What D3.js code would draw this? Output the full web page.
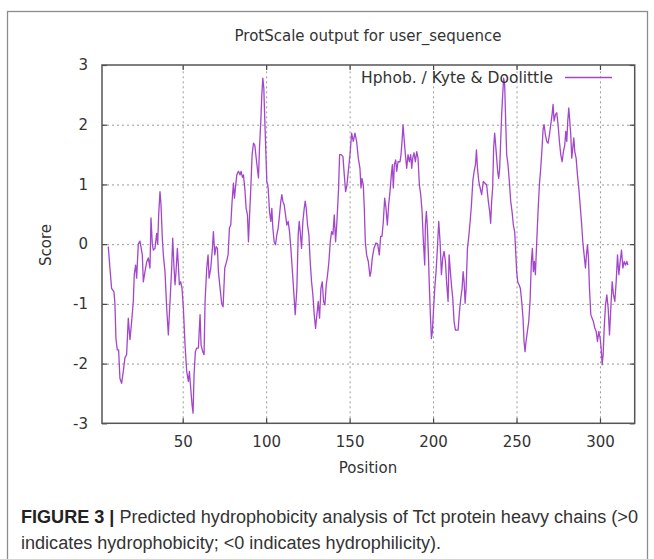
<!DOCTYPE html>
<html>
<head>
<meta charset="utf-8">
<script src="https://d3js.org/d3.v7.min.js"></script>
<style>
  body { margin: 0; background: #fff; }
  .tick text { font-family: "DejaVu Sans", sans-serif; font-size: 15px; fill: #333; }
</style>
</head>
<body>
<div id="chart"></div>
<script>
// Kyte & Doolittle hydrophobicity
var positions = [
  5.4, 6.4, 7.4, 8.8, 9.4, 10, 10.8, 11.6, 12.4, 13.4, 14.4, 15.4, 16.4, 17.4, 18.4, 19.4, 20.4, 21, 21.8, 22.4,
  23.4, 24.4, 25.8, 26.4, 27.4, 28.4, 29.4, 30.4, 31, 31.8, 32.4, 33.4, 34.4, 35, 35.6, 36.4, 37, 37.8, 38.4, 39.4,
  40.4, 41.4, 42.4, 43.4, 44, 44.8, 45.4, 46, 46.8, 47.4, 48, 48.8, 49.6, 50.4, 51.4, 52.4, 53.4, 54, 54.8, 55.6,
  56.2, 56.8, 57.6, 58.4, 59.4, 60.4, 61, 62, 62.8, 63.4, 64.4, 65.2, 65.8, 66.8, 67.8, 68.4, 69.2, 70, 70.8, 71.4,
  72.4, 73.4, 74.2, 75.2, 76.2, 77.2, 78, 78.8, 79.6, 80.4, 81, 81.6, 82.4, 83.4, 84.4, 85, 85.8, 86.4, 87.2, 88,
  88.8, 89.4, 90, 90.8, 91.6, 92.4, 93.2, 94, 94.8, 95.4, 96, 96.8, 97.4, 98, 98.6, 99.2, 99.8, 100.4, 101.2, 102,
  102.8, 103.4, 104, 104.8, 105.6, 106.4, 107.2, 108, 108.8, 109.4, 110, 110.8, 111.6, 112.4, 113.2, 114, 114.8, 115.6, 116.4, 117.4,
  118.4, 119.2, 119.8, 120.4, 121.2, 122, 122.8, 123.4, 124, 124.8, 125.6, 126.4, 127.2, 128, 128.8, 129.6, 130.4, 131.2, 132, 132.8,
  133.6, 134.4, 135.2, 136, 136.8, 137.6, 138.4, 139.2, 140, 140.8, 141.6, 142.4, 143.4, 144, 144.8, 146, 146.8, 147.6, 148.4, 149.4,
  150.4, 151.2, 152.2, 153.2, 154.2, 155.2, 156.2, 156.8, 157.4, 158.2, 158.8, 159.4, 160.2, 161.2, 162.2, 162.8, 163.6, 164.6, 165.8, 166.8,
  167.8, 168.6, 169.4, 170.2, 171, 171.8, 172.6, 173.4, 174.2, 175, 175.6, 176.2, 176.8, 177.6, 178.2, 179, 180.2, 180.8, 181.4, 182,
  182.6, 183.4, 184.2, 185, 185.8, 186.6, 187.2, 187.8, 188.6, 189.4, 190.2, 191, 191.8, 192.6, 193.4, 194.2, 195, 195.4, 196, 196.6,
  197.2, 197.8, 198.4, 199, 199.6, 200.2, 201, 201.8, 202.6, 203.4, 204.2, 205, 205.8, 206.6, 207.4, 208.2, 209, 209.6, 210.2, 211,
  211.8, 212.6, 213.4, 214.2, 215, 215.8, 216.6, 217.4, 218, 218.6, 219.2, 219.8, 220.6, 221.4, 222.2, 223, 223.8, 224.6, 225.4, 226,
  226.6, 227.4, 228.2, 229.1, 230.1, 231.1, 232.1, 233.1, 233.9, 234.5, 235.1, 235.7, 236.3, 236.9, 237.5, 238.1, 238.7, 239.3, 239.9, 240.5,
  241.1, 241.7, 242.3, 242.9, 243.5, 244.1, 244.9, 245.7, 246.5, 247.3, 248.1, 248.9, 249.5, 250.1, 250.7, 251.5, 252.3, 253.1, 253.9, 254.5,
  255.1, 255.7, 256.5, 257.3, 258.1, 258.9, 259.5, 260.1, 260.7, 261.3, 262.1, 262.9, 263.7, 264.5, 265.3, 265.9, 266.5, 267.3, 268.1, 268.9,
  269.7, 270.5, 271.3, 271.9, 272.5, 273.3, 274.1, 274.9, 275.7, 276.5, 277.3, 278.1, 278.9, 279.5, 280.1, 280.7, 281.3, 281.9, 282.5, 283.1,
  283.7, 284.3, 284.9, 285.7, 286.5, 287.3, 288.1, 288.9, 289.7, 290.5, 291.3, 291.9, 292.5, 293.1, 293.7, 294.5, 295.3, 296.1, 296.9, 297.7,
  298.5, 299.3, 300.1, 300.7, 301.3, 301.9, 302.5, 303.3, 304.1, 304.9, 305.7, 306.5, 307.3, 308.1, 308.9, 309.7, 310.5, 311.3, 312.1, 312.9,
  313.7, 314.5, 315.3, 316.1, 316.7
];
var scores = [
  -0.04, -0.4, -0.74, -0.8, -1.0, -1.58, -1.77, -1.77, -2.25, -2.33, -2.13, -1.9, -1.85, -1.24, -1.6, -1.3, -0.96, -0.5, -0.35, -0.57,
  0, 0.05, -0.18, -0.63, -0.46, -0.3, -0.23, -0.4, 0.44, 0, -0.1, -0.07, 0.18, 0, 0.49, 0.88, 0.66, 0.1, -0.18, -0.46,
  -1.07, -1.52, -0.96, -0.4, 0.1, -0.4, -0.68, -0.46, -0.07, -0.35, -0.68, -0.63, -0.74, -1.07, -1.69, -2.13, -2.3, -2.13, -2.41, -2.69,
  -2.83, -2.19, -1.8, -1.74, -1.74, -1.18, -1.69, -1.8, -1.85, -0.96, -0.4, -0.18, -0.57, -0.4, -0.07, 0.21, -0.18, -0.04, -0.07, -0.46,
  -0.74, -1.0, -1.05, -0.4, -0.3, -0.18, 0.27, 0.32, 0.72, 1.02, 0.77, 0.94, 1.16, 1.22, 1.16, 1.22, 1.12, 1.16, 0.94, 0.6,
  0.49, 0.04, 0.44, 0.94, 1.5, 1.69, 1.66, 1.45, 1.25, 1.11, 1.61, 2.06, 2.5, 2.78, 2.61, 2.06, 1.55, 1.05, 0.94, 0.55,
  0.38, 0.6, 0.27, 0.04, -0.01, 0.16, 0.27, 0.49, 0.72, 0.83, 0.72, 0.66, 0.49, 0.32, 0.38, 0.21, -0.07, -0.4, -0.74, -1.18,
  -0.74, 0.16, 0.38, 0.21, -0.07, 0.38, 0.6, 0.72, 0.6, 0.32, 0.16, -0.3, -0.63, -0.85, -1.18, -1.41, -1.18, -0.96, -1.24, -0.74,
  -0.63, -0.96, -1.02, -0.68, -0.51, -0.29, 0.04, 0.21, 0.16, 0.49, 0.04, 0.38, 0.94, 1.5, 1.5, 1.47, 1.16, 0.88, 0.99, 1.27,
  1.55, 1.86, 1.72, 1.86, 1.72, 1.44, 1.27, 0.94, 1.1, 0.99, 0.6, 0.04, -0.18, -0.29, -0.54, -0.46, -0.23, -0.07, 0.02, 0,
  -0.18, 0.13, 0.13, 0.38, 0.77, 0.6, 0.32, 0.66, 0.88, 1.16, 1.33, 0.94, 1.33, 1.41, 1.22, 1.38, 1.38, 1.5, 1.72, 2.0,
  1.78, 1.5, 1.27, 1.5, 1.38, 1.5, 1.27, 1.44, 1.53, 1.38, 1.55, 1.44, 0.99, 0.83, 0.55, 0.04, -0.35, 0.32, 0.55, 0.27,
  -0.18, -0.74, -1.18, -1.58, -1.46, -1.13, -0.74, -0.46, -0.07, 0.38, 0.04, -0.51, -0.23, -0.12, -0.29, -0.68, -0.96, -0.18, -0.4, -0.68,
  -0.91, -1.3, -1.44, -1.44, -1.44, -1.13, -0.91, -0.74, -0.46, -0.63, -0.99, -0.74, -0.07, 0.13, 0.38, 0.66, 1.05, 1.22, 1.33, 1.58,
  1.27, 1.05, 0.94, 0.83, 1.05, 1.02, 0.99, 0.72, 0.55, 0.35, 0.72, 0.94, 1.61, 1.86, 1.66, 1.44, 1.22, 1.1, 1.27, 1.72,
  2.17, 2.5, 2.78, 2.67, 2.06, 1.5, 1.33, 1.05, 0.72, 0.55, 0.32, 0.21, -0.12, -0.46, -0.63, -0.68, -0.74, -0.96, -1.24, -1.63,
  -1.8, -1.63, -1.46, -1.3, -0.96, -0.29, -0.07, -0.46, -0.29, -0.51, 0.04, 0.55, 0.99, 1.27, 1.61, 1.92, 2.0, 1.83, 1.72, 1.69,
  1.83, 2.0, 2.17, 2.34, 2.06, 2.17, 2.2, 2.0, 1.72, 1.5, 1.38, 1.55, 1.66, 1.89, 1.72, 2.06, 2.28, 2.06, 1.83, 1.44,
  1.61, 1.78, 1.55, 1.44, 1.16, 0.94, 0.66, 0.38, 0.04, -0.18, -0.4, -0.18, -0.01, -0.23, -0.74, -1.18, -1.24, -1.3, -1.41, -1.46,
  -1.63, -1.46, -1.58, -1.74, -2.02, -1.85, -1.41, -1.02, -0.85, -1.07, -1.52, -1.07, -0.63, -0.85, -0.96, -0.63, -0.18, -0.51, -0.29, -0.1,
  -0.4, -0.29, -0.35, -0.29, -0.35
];

var xTicks = [50, 100, 150, 200, 250, 300];
var yTicks = [-3, -2, -1, 0, 1, 2, 3];
var xDomain = [1.65, 320.8];
var yDomain = [-3, 3];

var chartTitle = "ProtScale output for user_sequence";
var legendLabel = "Hphob. / Kyte & Doolittle";
var xLabel = "Position";
var yLabel = "Score";
var captionBold = "FIGURE 3 |";
var captionLine1 = " Predicted hydrophobicity analysis of Tct protein heavy chains (>0";
var captionLine2 = "indicates hydrophobicity; <0 indicates hydrophilicity).";

var svgWidth = 654;
var svgHeight = 559;
var margin = { top: 65, right: 19.3, bottom: 135.7, left: 102 };
var width = svgWidth - margin.left - margin.right;
var height = svgHeight - margin.top - margin.bottom;

var lineColor = "#a346cc";
var font = "'DejaVu Sans', sans-serif";

var svg = d3.select("#chart")
  .append("svg")
  .attr("width", svgWidth)
  .attr("height", svgHeight)
  .style("display", "block");

// figure frame
svg.append("rect")
  .attr("x", 7.5)
  .attr("y", 11.5)
  .attr("width", 640)
  .attr("height", 570)
  .attr("fill", "#fff")
  .attr("stroke", "#8c8c8c")
  .attr("stroke-width", 1.3);

var chartGroup = svg.append("g")
  .attr("transform", `translate(${margin.left}, ${margin.top})`);

var xScale = d3.scaleLinear().domain(xDomain).range([0, width]);
var yScale = d3.scaleLinear().domain(yDomain).range([height, 0]);

// dotted grid
chartGroup.append("g")
  .attr("class", "grid")
  .attr("transform", `translate(0, ${height})`)
  .call(d3.axisBottom(xScale).tickValues(xTicks).tickSize(-height).tickFormat(""))
  .call(g => g.select(".domain").remove());

chartGroup.append("g")
  .attr("class", "grid")
  .call(d3.axisLeft(yScale).tickValues(yTicks.slice(1, -1)).tickSize(-width).tickFormat(""))
  .call(g => g.select(".domain").remove());

chartGroup.selectAll(".grid line")
  .attr("stroke", "#9a9a9a")
  .attr("stroke-width", 1)
  .attr("stroke-dasharray", "2,3");

// axes with inward ticks, gnuplot style
var plainFormat = d => String(d);

chartGroup.append("g")
  .attr("transform", `translate(0, ${height})`)
  .call(d3.axisBottom(xScale).tickValues(xTicks).tickSize(-5).tickPadding(13).tickFormat(plainFormat));

chartGroup.append("g")
  .call(d3.axisTop(xScale).tickValues(xTicks).tickSize(-5).tickFormat(""));

chartGroup.append("g")
  .call(d3.axisLeft(yScale).tickValues(yTicks).tickSize(-5).tickPadding(14).tickFormat(plainFormat));

chartGroup.append("g")
  .attr("transform", `translate(${width}, 0)`)
  .call(d3.axisRight(yScale).tickValues(yTicks).tickSize(-5).tickFormat(""));

chartGroup.selectAll(".domain").remove();
chartGroup.selectAll(".tick line").filter(function() { return !this.closest(".grid"); })
  .attr("stroke", "#444")
  .attr("stroke-width", 1.2);

chartGroup.append("rect")
  .attr("width", width)
  .attr("height", height)
  .attr("fill", "none")
  .attr("stroke", "#555")
  .attr("stroke-width", 1.5);

// data line
var points = positions.map((p, i) => [p, scores[i]]);
var line = d3.line()
  .x(d => xScale(d[0]))
  .y(d => yScale(d[1]));

chartGroup.append("path")
  .datum(points)
  .attr("d", line)
  .attr("fill", "none")
  .attr("stroke", lineColor)
  .attr("stroke-width", 1.3)
  .attr("stroke-linejoin", "round");

// legend
chartGroup.append("text")
  .attr("x", 451)
  .attr("y", 18)
  .attr("text-anchor", "end")
  .attr("font-family", font)
  .attr("font-size", 15.5)
  .attr("fill", "#333")
  .text(legendLabel);

chartGroup.append("line")
  .attr("x1", 463)
  .attr("x2", 510)
  .attr("y1", 12.5)
  .attr("y2", 12.5)
  .attr("stroke", lineColor)
  .attr("stroke-width", 1.5);

// title and axis labels
svg.append("text")
  .attr("x", 368)
  .attr("y", 41)
  .attr("text-anchor", "middle")
  .attr("font-family", font)
  .attr("font-size", 15)
  .attr("fill", "#333")
  .text(chartTitle);

svg.append("text")
  .attr("x", 368)
  .attr("y", 473)
  .attr("text-anchor", "middle")
  .attr("font-family", font)
  .attr("font-size", 15)
  .attr("fill", "#333")
  .text(xLabel);

svg.append("text")
  .attr("transform", "translate(51, 245) rotate(-90)")
  .attr("text-anchor", "middle")
  .attr("font-family", font)
  .attr("font-size", 15)
  .attr("fill", "#333")
  .text(yLabel);

// caption
var capFont = "'Liberation Sans Narrow', 'Liberation Sans', Arial, sans-serif";
var cap1 = svg.append("text")
  .attr("x", 21)
  .attr("y", 523)
  .attr("font-family", capFont)
  .attr("font-size", 18)
  .attr("fill", "#333")
  .attr("textLength", 617)
  .attr("lengthAdjust", "spacingAndGlyphs");
cap1.append("tspan").attr("font-weight", "bold").attr("fill", "#222").text(captionBold);
cap1.append("tspan").text(captionLine1);

svg.append("text")
  .attr("x", 21)
  .attr("y", 549)
  .attr("font-family", capFont)
  .attr("font-size", 18)
  .attr("fill", "#333")
  .attr("textLength", 420)
  .attr("lengthAdjust", "spacingAndGlyphs")
  .text(captionLine2);
</script>
</body>
</html>
